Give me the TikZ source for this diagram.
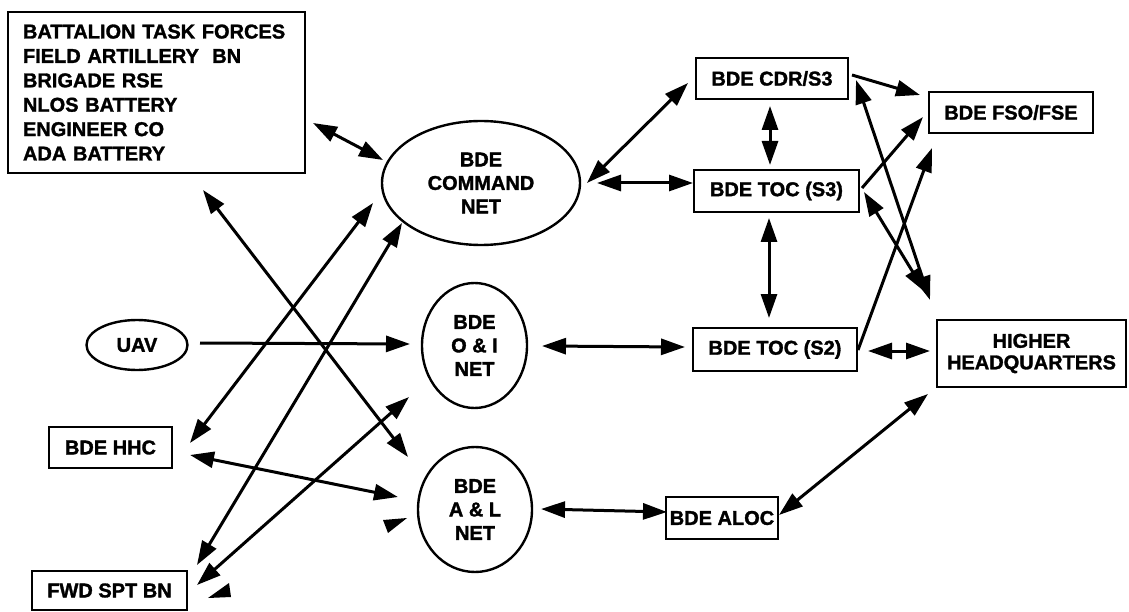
\documentclass[tikz,border=0pt]{standalone}
\usepackage{fontspec}
\setmainfont{Liberation Sans}
\newfontfamily\heavyfont[FakeBold=1.5]{Liberation Sans}
\usetikzlibrary{arrows.meta,shapes.geometric}
\begin{document}
\begin{tikzpicture}[x=1pt,y=-1pt,
  every node/.style={font=\heavyfont\fontsize{20}{23.5}\selectfont\bfseries, inner sep=0pt},
  box/.style={draw, line width=2.8pt, rectangle, align=center},
  net/.style={draw, line width=2.4pt, ellipse, align=center},
  >={Triangle[length=24pt,width=16pt]},
  link/.style={line width=3pt},
  dbl/.style={link,<->},
  sgl/.style={link,->}]
\useasboundingbox (0,0) rectangle (1129,612);
% nodes
\node[box, minimum width=297pt, minimum height=161pt, text width=267pt, align=left, inner xsep=15pt,
      font=\heavyfont\fontsize{20}{24.4}\selectfont\bfseries] (tl) at (156.5,92.5)
  {BATTALION TASK FORCES\\FIELD ARTILLERY~ BN\\BRIGADE RSE\\NLOS BATTERY\\ENGINEER CO\\ADA BATTERY};
\node[net, minimum width=198pt, minimum height=124pt] (cmd) at (481,183) {BDE\\COMMAND\\NET};
\node[net, minimum width=105pt, minimum height=125pt] (oi) at (474.5,345.5) {BDE\\O \& I\\NET};
\node[net, minimum width=114pt, minimum height=125pt] (al) at (475,509.5) {BDE\\A \& L\\NET};
\node[net, minimum width=101pt, minimum height=50pt] (uav) at (137,345) {UAV};
\node[box, minimum width=123pt, minimum height=41pt] (hhc) at (110.5,447.5) {BDE HHC};
\node[box, minimum width=155pt, minimum height=39pt] (fwd) at (109.5,590.5) {FWD SPT BN};
\node[box, minimum width=152pt, minimum height=41pt] (cdr) at (772,78.5) {BDE CDR/S3};
\node[box, minimum width=165pt, minimum height=42pt] (toc3) at (776.5,191) {BDE TOC (S3)};
\node[box, minimum width=164pt, minimum height=43pt] (toc2) at (775,349.5) {BDE TOC (S2)};
\node[box, minimum width=112pt, minimum height=42pt] (aloc) at (722,518) {BDE ALOC};
\node[box, minimum width=164pt, minimum height=41pt] (fso) at (1011,112.5) {BDE FSO/FSE};
\node[box, minimum width=189pt, minimum height=67pt, font=\heavyfont\fontsize{20}{21.5}\selectfont\bfseries] (hq) at (1031.5,353.5) {HIGHER\\HEADQUARTERS};
% connectors
\draw[dbl] ([shift={(156.5,30.5)}]tl.center) -- ([shift={(-98,-23)}]cmd.center);
\draw[dbl] ([shift={(106,0)}]cmd.center) -- ([shift={(-84,4.5)}]cdr.center);
\draw[dbl] ([shift={(116,0)}]cmd.center) -- ([shift={(-83.5,-8)}]toc3.center);
\draw[dbl] ([shift={(-2,27.5)}]cdr.center) -- ([shift={(-6.5,-26)}]toc3.center);
\draw[dbl] ([shift={(-7.5,27)}]toc3.center) -- ([shift={(-6,-31.5)}]toc2.center);
\draw[dbl] ([shift={(67.5,0.5)}]oi.center) -- ([shift={(-90,-2.5)}]toc2.center);
\draw[dbl] ([shift={(66,-0.5)}]al.center) -- ([shift={(-55,-6)}]aloc.center);
\draw[dbl] ([shift={(57,-3)}]aloc.center) -- ([shift={(-103.5,40.5)}]hq.center);
\draw[dbl] ([shift={(93,1.5)}]toc2.center) -- ([shift={(-101.5,-2.5)}]hq.center);
\draw[sgl] ([shift={(80,-3.5)}]cdr.center) -- ([shift={(-91,-17.5)}]fso.center);
\draw[sgl] ([shift={(85.5,-3)}]toc3.center) -- ([shift={(-88,4.5)}]fso.center);
\draw[sgl] ([shift={(83,0.5)}]toc2.center) -- ([shift={(-79,35.5)}]fso.center);
\draw[dbl] ([shift={(84,1.5)}]cdr.center) -- ([shift={(-101.5,-53.5)}]hq.center);
\draw[dbl] ([shift={(87.5,1)}]toc3.center) -- ([shift={(-106.5,-61.5)}]hq.center);
\draw[sgl] ([shift={(63,-2)}]uav.center) -- ([shift={(-64.5,-1.5)}]oi.center);
\draw[dbl] ([shift={(46.5,97.5)}]tl.center) -- ([shift={(-67,-52.5)}]al.center);
\draw[dbl] ([shift={(87.5,-5.5)}]fwd.center) -- ([shift={(-65.5,51.5)}]oi.center);
\draw[dbl] ([shift={(79.5,-4.5)}]hhc.center) -- ([shift={(-108,20)}]cmd.center);
\draw[dbl] ([shift={(87.5,-25.5)}]fwd.center) -- ([shift={(-79,40)}]cmd.center);
\draw[dbl] ([shift={(79.5,7.5)}]hhc.center) -- ([shift={(-77,-12.5)}]al.center);
% stray arrowheads
\fill ([shift={(-92,10.5)}]al.center) -- ([shift={(-68,8.5)}]al.center) -- ([shift={(-87,23.5)}]al.center) -- cycle;
\fill ([shift={(98.5,7.5)}]fwd.center) -- ([shift={(119.5,-7.5)}]fwd.center) -- ([shift={(121.5,6.5)}]fwd.center) -- cycle;
\end{tikzpicture}
\end{document}
